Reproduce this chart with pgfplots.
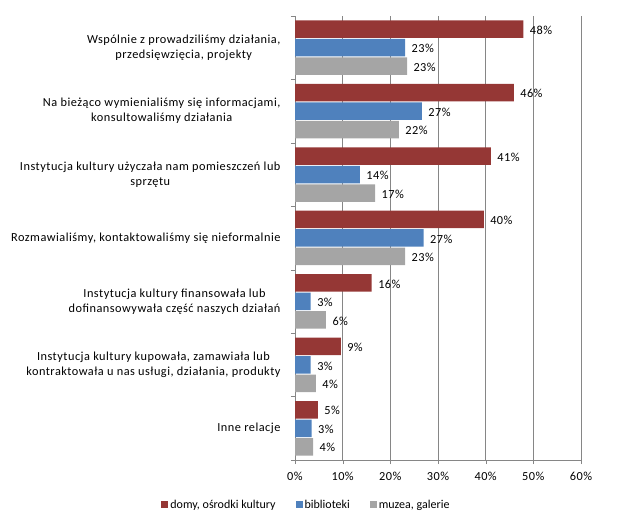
\documentclass[border=0pt]{standalone}
\usepackage{pgfplots}
\pgfplotsset{compat=1.18}
\usepackage{fontspec}
\setmainfont{Carlito}[LetterSpace=4]
\newfontfamily\legfont{Carlito}
\definecolor{cred}{HTML}{953735}
\definecolor{cblue}{HTML}{4F81BD}
\definecolor{cgray}{HTML}{A5A5A5}
\definecolor{cgrid}{HTML}{868686}
\begin{document}
\begin{tikzpicture}
\path[use as bounding box] (0,0) rectangle (640bp,527bp);
\begin{axis}[
  at={(295bp,67bp)}, anchor=south west,
  scale only axis, width=286bp, height=444bp,
  xmin=0, xmax=60, ymin=-0.5, ymax=6.5,
  xbar, bar width=17.5bp,
  axis x line*=bottom, axis y line*=left,
  axis line style={cgrid},
  xmajorgrids, grid style={cgrid, line width=0.6pt},
  xtick={0,10,...,60},
  xticklabel={\pgfmathprintnumber{\tick}\%},
  /pgf/number format/assume math mode=true,
  ytick={-0.5,0.5,...,6.5}, yticklabels={},
  tick align=outside, major tick length=4bp,
  tick style={cgrid},
  extra y ticks={0,1,2,3,4,5,6},
  extra y tick labels={
    Inne relacje,
    {Instytucja kultury kupowała, zamawiała lub\\kontraktowała u nas usługi, działania, produkty},
    {Instytucja kultury finansowała lub\\dofinansowywała część naszych działań},
    {Rozmawialiśmy, kontaktowaliśmy się nieformalnie},
    {Instytucja kultury użyczała nam pomieszczeń lub\\sprzętu},
    {Na bieżąco wymienialiśmy się informacjami,\\konsultowaliśmy działania},
    {Wspólnie z prowadziliśmy działania,\\przedsięwzięcia, projekty}},
  extra y tick style={major tick length=0pt, tick style={draw=none}},
  yticklabel style={align=center, font=\fontsize{12.3bp}{15bp}\selectfont, xshift=-11bp},
  xticklabel style={font=\fontsize{12.3bp}{14bp}\selectfont, yshift=-5bp},
  point meta=explicit symbolic,
  nodes near coords={\pgfplotspointmeta\%},
  every node near coord/.append style={font=\fontsize{12.3bp}{14bp}\selectfont, text=black, anchor=west, xshift=3bp, yshift=-1bp},
  legend style={at={(axis description cs:0.04,-0.101)}, anchor=center, draw=none,
    font=\legfont\fontsize{12bp}{14bp}\selectfont,
    /tikz/every even column/.append style={column sep=18bp}},
  legend columns=3,
  legend image code/.code={\fill[#1] (0bp,-3.5bp) rectangle (7bp,3.5bp);},
]
\addplot[fill=cred, draw=none, bar shift=18.5bp] coordinates {
  (4.8,0) [5] (9.6,1) [9] (16.1,2) [16] (39.6,3) [40] (41.1,4) [41] (45.9,5) [46] (47.9,6) [48]};
\addplot[fill=cblue, draw=none, bar shift=0bp] coordinates {
  (3.5,0) [3] (3.3,1) [3] (3.3,2) [3] (27.0,3) [27] (13.6,4) [14] (26.6,5) [27] (23.1,6) [23]};
\addplot[fill=cgray, draw=none, bar shift=-18.5bp] coordinates {
  (3.8,0) [4] (4.4,1) [4] (6.5,2) [6] (23.1,3) [23] (16.8,4) [17] (21.8,5) [22] (23.5,6) [23]};
\legend{{domy, ośrodki kultury}, biblioteki, {muzea, galerie}}
\end{axis}
\end{tikzpicture}
\end{document}
